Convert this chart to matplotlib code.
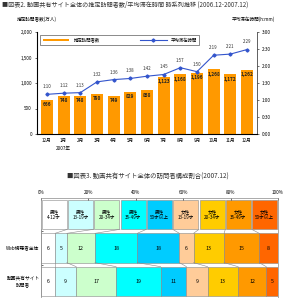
"""
visitor count / stay time trend and visitor mix, 2006.12 - 2007.12
"""

import numpy as np
from matplotlib import pyplot as plt

plt.rcParams['font.family'] = ['Noto Sans CJK JP', 'DejaVu Sans']

# --- chart 2 data ---
months = ['12月', '1月\n2007年', '2月', '3月', '4月', '5月', '6月',
          '7月', '8月', '9月', '10月', '11月', '12月']
visitors = [666, 748, 748, 790, 749, 829, 858, 1123, 1168, 1196, 1268, 1172, 1262]
stay_time = ['1:10', '1:12', '1:13', '1:32', '1:36', '1:38', '1:42',
             '1:45', '1:57', '1:50', '2:19', '2:21', '2:29']

# --- chart 3 data ---
groups = ['男性\n4-12才', '男性\n13-19才', '男性\n20-34才', '男性\n35-49才', '男性\n50才以上',
          '女性\n13-19才', '女性\n20-34才', '女性\n35-49才', '女性\n50才以上']
group_colors = ['#ffffff', '#ccffff', '#ccffcc', '#00ffff', '#00ccff',
                '#ffcc99', '#ffcc00', '#ff9900', '#ff6600']
row_names = ['Web視聴者全体', '動画共有サイト\n訪問者']
web_share = [6, 5, 12, 18, 18, 6, 13, 15, 8]
video_share = [6, 9, 17, 19, 11, 9, 13, 12, 5]


def to_minutes(s):
    h, m = s.split(':')
    return int(h) * 60 + int(m)


fig = plt.figure(figsize=(2.9, 2.98), dpi=100)

# titles
fig.text(0.008, 1 - 5 / 298, '■図表2. 動画共有サイト全体の推定訪問者数/平均滞在時間 時系列推移 (2006.12-2007.12)',
         fontsize=4.4, va='center', ha='left', color='#333333')
fig.text(148 / 290, 1 - 177 / 298, '■図表3. 動画共有サイト全体の訪問者構成割合(2007.12)',
         fontsize=4.6, va='center', ha='center', color='#333333')
fig.text(37 / 290, 1 - 19 / 298, '推定訪問者数(万人)', fontsize=3.3, ha='center', va='center')
fig.text(253 / 290, 1 - 19 / 298, '平均滞在時間(h:mm)', fontsize=3.3, ha='center', va='center')

# ---------- top chart ----------
ax = fig.add_axes([37 / 290, 1 - 134 / 298, 220 / 290, 102 / 298])
x = np.arange(len(months))
bars = ax.bar(x, visitors, width=0.72, color='#ff9900', label='推定訪問者数', zorder=2)
for xi, v in zip(x, visitors):
    ax.text(xi, v - 45, f'{v:,}', ha='center', va='top', fontsize=3.4,
            fontweight='bold', color='#222222', zorder=4)
ax.set_ylim(0, 2000)
ax.set_yticks([0, 500, 1000, 1500, 2000])
ax.set_yticklabels(['0', '500', '1,000', '1,500', '2,000'])
ax.set_xlim(-0.6, len(months) - 0.4)
ax.set_xticks(x)
ax.set_xticklabels(months, fontsize=3.3, linespacing=1.6, va='top')
ax.tick_params(axis='y', labelsize=3.3, length=1.5, width=0.4, pad=2)
ax.tick_params(axis='x', length=0, pad=3)
for side in ['left', 'bottom', 'right']:
    ax.spines[side].set_linewidth(0.5)
    ax.spines[side].set_color('#555555')
ax.spines['top'].set_visible(False)

ax_r = ax.twinx()
mins = [to_minutes(s) for s in stay_time]
line, = ax_r.plot(x, mins, color='#3355cc', lw=0.8, marker='D', markersize=1.6,
                  label='平均滞在時間', zorder=3)
for xi, m, s in zip(x, mins, stay_time):
    ax_r.text(xi, m + 9, s, ha='center', va='bottom', fontsize=3.2,
              style='italic', color='#333333')
ax_r.set_ylim(0, 180)
ax_r.set_yticks(range(0, 181, 30))
ax_r.set_yticklabels([f'{t // 60}:{t % 60:02d}' for t in range(0, 181, 30)])
ax_r.tick_params(axis='y', labelsize=3.3, length=1.5, width=0.4, pad=2)
ax_r.spines['top'].set_visible(False)
ax_r.spines['right'].set_linewidth(0.5)
ax_r.spines['right'].set_color('#555555')

leg = ax_r.legend([bars, line], ['推定訪問者数', '平均滞在時間'], ncol=2, fontsize=3.2,
                  loc='upper left', bbox_to_anchor=(0.005, 0.99), frameon=True,
                  fancybox=False, edgecolor='#333333', handlelength=6,
                  handleheight=0.5, columnspacing=9, borderpad=0.5, handletextpad=1.0)
leg.get_frame().set_linewidth(0.5)

# ---------- bottom chart ----------
ax2 = fig.add_axes([41 / 290, 0.0, 237 / 290, 100 / 298])
ax2.set_xlim(0, 100)
ax2.set_ylim(2.5, -0.5)
h = 0.88

# header boxes, equal width
hw = 100 / len(groups)
for i, (g, c) in enumerate(zip(groups, group_colors)):
    ax2.barh(0, hw * 0.96, left=i * hw + hw * 0.02, height=h, color=c,
             edgecolor='#888888', linewidth=0.4)
    ax2.text(i * hw + hw / 2, 0, g, ha='center', va='center', fontsize=3.3,
             linespacing=1.4)

rows = [web_share, video_share]
edges_prev = np.arange(len(groups) + 1) * hw
for r, vals in enumerate(rows, start=1):
    vals = np.array(vals, dtype=float)
    w = vals / vals.sum() * 100
    left = np.concatenate([[0], np.cumsum(w)[:-1]])
    ax2.barh(r, w, left=left, height=h, color=group_colors,
             edgecolor='#888888', linewidth=0.4)
    for lft, wi, v in zip(left, w, vals):
        ax2.text(lft + wi / 2, r, f'{int(v)}', ha='center', va='center', fontsize=3.8)
    edges = np.concatenate([[0], np.cumsum(w)])
    # connector lines between the rows
    for e0, e1 in zip(edges_prev, edges):
        ax2.plot([e0, e1], [r - 1 + h / 2, r - h / 2], color='#888888', lw=0.4)
    edges_prev = edges
    ax2.text(-7.6, r, row_names[r - 1], ha='center', va='center', fontsize=3.4,
             clip_on=False, linespacing=1.4)

ax2.xaxis.tick_top()
ax2.set_xticks([0, 20, 40, 60, 80, 100])
ax2.set_xticklabels(['0%', '20%', '40%', '60%', '80%', '100%'])
ax2.tick_params(axis='x', labelsize=3.3, length=1.5, width=0.4, pad=2, direction='in')
ax2.set_yticks([0.5, 1.5])
ax2.set_yticklabels([])
ax2.tick_params(axis='y', length=1.5, width=0.4, direction='in')
for side in ax2.spines.values():
    side.set_linewidth(0.5)
    side.set_color('#888888')

fig.savefig('out.png', dpi=100)
